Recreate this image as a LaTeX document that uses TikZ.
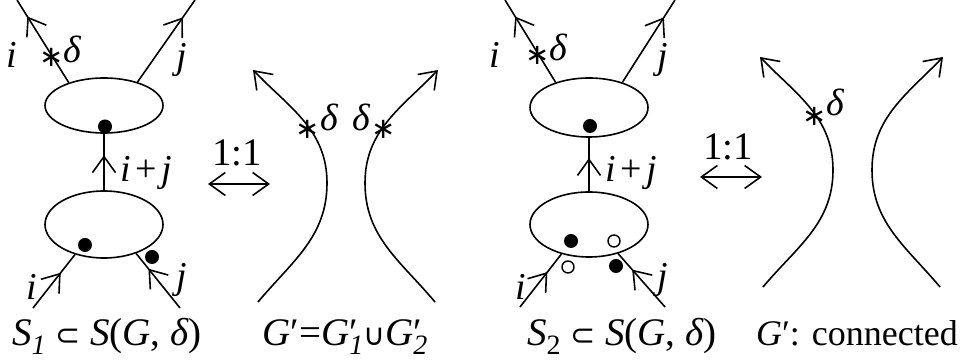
\documentclass[tikz,border=0pt]{standalone}
\usepackage{fontspec}
\setmainfont{Liberation Serif}
\newfontfamily\mysym{DejaVu Sans}
\usetikzlibrary{shapes.geometric,arrows.meta,decorations.markings}
\newcommand{\mysub}[1]{\raisebox{-9pt}{\fontsize{28}{30}\selectfont\textit{#1}}}
\newcommand{\myGp}[1]{\textit{G}\rlap{′}\mysub{#1}}
\newcommand{\mysubset}{\hspace{0.25em}{\mysym\fontsize{30}{36}\selectfont ⊂}\hspace{0.25em}}
\tikzset{
  >={Straight Barb[length=16pt,width=23pt]},
  ln/.style={line width=1.6pt},
  oval/.style={draw, ellipse, line width=1.6pt, minimum width=118pt, inner sep=0pt},
  dotf/.style={circle, fill, inner sep=0pt, minimum size=14pt},
  doto/.style={circle, draw, line width=1.4pt, fill=white, inner sep=0pt, minimum size=12pt},
  lab/.style={inner sep=0pt, font=\fontsize{38}{44}\selectfont\itshape},
  big/.style={inner sep=0pt, font=\fontsize{39}{46}\selectfont},
  starmark/.style={inner sep=0pt, yshift=-3pt, font=\fontsize{29}{34}\selectfont\mysym},
  midarr/.style={postaction={decorate, decoration={markings, mark=at position #1 with {\arrow[line width=1.6pt]{>}}}}},
}
\begin{document}
\begin{tikzpicture}[x=1pt,y=1pt]
\useasboundingbox (0,0) rectangle (964,363);
% ---------- panel 1
\node[oval, minimum height=55pt] (u1) at (104,257.5) {};
\node[oval, minimum height=67pt] (l1) at (104,138.5) {};
\coordinate (a1) at (17,363);
\coordinate (b1) at (195,363);
\coordinate (c1) at (33,55);
\coordinate (d1) at (180,55);
\draw[ln, midarr=0.62] (l1.north) -- (u1.south);
\draw[ln, midarr=0.80] (u1.147) -- node[starmark, pos=0.34] (s1) {∗} (a1);
\draw[ln, midarr=0.79] (u1.35) -- (b1);
\draw[ln, midarr=0.66] (c1) -- (l1.226);
\draw[ln, midarr=0.72] (d1) -- (l1.318);
\node[dotf] (f1a) at (105,236.5) {};
\node[dotf] (f1b) at (85,118) {};
\node[dotf] (f1c) at (152,106) {};
\node[lab] (t1i) at (12,308) {i};
\node[lab] (t1d) at (72,314) {δ};
\node[lab] (t1j) at (182,303) {j};
\node[lab] (t1ij) at (146,190) {i\hspace{0.12em}{\upshape +}\hspace{0.12em}j};
\node[lab] (t1li) at (32,76) {i};
\node[lab] (t1lj) at (182,83) {j};
\node[big, anchor=base] (cap1) at (107,17) {\textit{S}\mysub{1}\mysubset\textit{S}(\textit{G}, \textit{δ})};
% ---------- panel 2
\coordinate (p2a) at (208,179);
\coordinate (p2b) at (270,179);
\draw[ln, <->] (p2a) -- (p2b);
\node[big] (r2) at (237,210) {1:1};
\coordinate (g2lb) at (258,61);
\coordinate (g2lm) at (327,180);
\coordinate (g2lt) at (253,293);
\coordinate (g2rb) at (435,61);
\coordinate (g2rm) at (365,180);
\coordinate (g2rt) at (438,293);
\draw[ln, ->] (g2lb) to[out=50,in=-90] (g2lm) to[out=90,in=-46] node[starmark, pos=0.45] (s2l) {∗} (g2lt);
\draw[ln, ->] (g2rb) to[out=130,in=-90] (g2rm) to[out=90,in=-134] node[starmark, pos=0.45] (s2r) {∗} (g2rt);
\node[lab] (t2dl) at (329,246) {δ};
\node[lab] (t2dr) at (361,246) {δ};
\node[big, anchor=base] (cap2) at (345,17) {\textit{G}′=\myGp{1}{\mysym\fontsize{30}{36}\selectfont ∪}\myGp{2}};
% ---------- panel 3
\node[oval, minimum height=59pt] (u3) at (589,255.5) {};
\node[oval, minimum height=65pt] (l3) at (589,138.5) {};
\coordinate (a3) at (505,363);
\coordinate (b3) at (675,363);
\coordinate (c3) at (520,56);
\coordinate (d3) at (665,56);
\draw[ln, midarr=0.62] (l3.north) -- (u3.south);
\draw[ln, midarr=0.80] (u3.143) -- node[starmark, pos=0.36] (s3) {∗} (a3);
\draw[ln, midarr=0.79] (u3.37) -- (b3);
\draw[ln, midarr=0.66] (c3) -- (l3.227);
\draw[ln, midarr=0.70] (d3) -- (l3.315);
\node[dotf] (f3a) at (590,237) {};
\node[dotf] (f3b) at (571,122) {};
\node[doto] (o3a) at (614,122) {};
\node[doto] (o3b) at (568,96) {};
\node[dotf] (f3c) at (616,97) {};
\node[lab] (t3i) at (495,308) {i};
\node[lab] (t3d) at (558,316) {δ};
\node[lab] (t3j) at (663,303) {j};
\node[lab] (t3ij) at (631,190) {i\hspace{0.12em}{\upshape +}\hspace{0.12em}j};
\node[lab] (t3li) at (521,76) {i};
\node[lab] (t3lj) at (663,83) {j};
\node[big, anchor=base] (cap3) at (622,17) {\textit{S}\mysub{\upshape 2}\mysubset\textit{S}(\textit{G}, \textit{δ})};
% ---------- panel 4
\coordinate (p4a) at (700,186);
\coordinate (p4b) at (762,186);
\draw[ln, <->] (p4a) -- (p4b);
\node[big] (r4) at (728,216) {1:1};
\coordinate (g4lb) at (763,76);
\coordinate (g4lm) at (833,193);
\coordinate (g4lt) at (760,306);
\coordinate (g4rb) at (940,76);
\coordinate (g4rm) at (872,193);
\coordinate (g4rt) at (943,306);
\draw[ln, ->] (g4lb) to[out=50,in=-90] (g4lm) to[out=90,in=-46] node[starmark, pos=0.45] (s4l) {∗} (g4lt);
\draw[ln, ->] (g4rb) to[out=130,in=-90] (g4rm) to[out=90,in=-134] (g4rt);
\node[lab] (t4d) at (835,261) {δ};
\node[big, anchor=base, font=\fontsize{36}{42}\selectfont] (cap4) at (857,17) {\textit{G}′: connected};
\end{tikzpicture}
\end{document}
